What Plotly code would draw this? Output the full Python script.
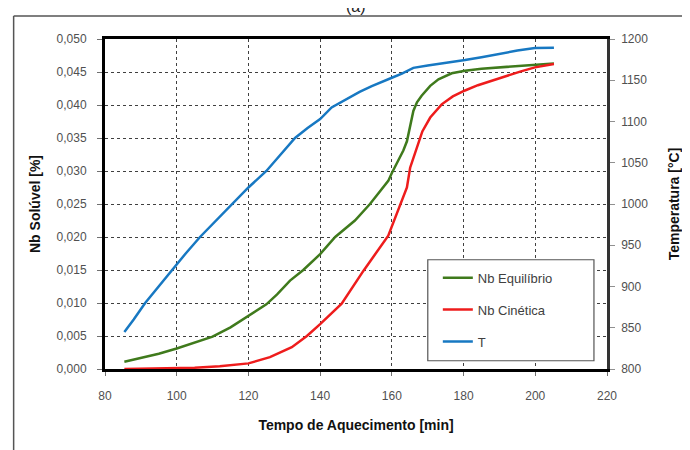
import plotly.graph_objects as go

# ---- data ----
t_T = [85.4, 88, 91.2, 95, 98.6, 102.5, 106.5, 111, 115.5, 120, 125, 129, 133, 136.5, 140,
       143.2, 147.4, 151, 154.4, 158, 160, 162.8, 166, 170, 175, 180.4, 185, 190, 195,
       199.9, 205.2]
temp = [845, 860, 880, 900, 920, 940, 960, 980, 1000, 1020, 1040, 1060, 1080, 1092, 1103,
        1117, 1127, 1136, 1143, 1150, 1153, 1158, 1165, 1168, 1171, 1174.5, 1178, 1182, 1186,
        1189, 1189.5]

t_eq = [85.4, 90, 95, 100, 105, 110, 115, 120, 125, 128, 131.6, 135.3, 140, 144.2, 149.7,
        153.9, 159, 160, 161.8, 163.2, 164.2, 165, 166, 167, 168.3, 170.7, 173, 176.7, 180.4,
        185, 190, 195, 199.9, 205.2]
nb_eq = [0.0011, 0.0017, 0.0023, 0.0031, 0.0040, 0.0049, 0.0063, 0.0081, 0.0098, 0.0113,
         0.0134, 0.0150, 0.0174, 0.0200, 0.0225, 0.0250, 0.0285, 0.0297, 0.0316, 0.0331,
         0.0345, 0.0365, 0.0391, 0.0404, 0.0414, 0.0429, 0.0439, 0.0448, 0.0452, 0.0455,
         0.0457, 0.0459, 0.0461, 0.0463]

t_kin = [85.4, 95, 105, 112, 120, 126, 132.1, 136.3, 140, 146, 152.1, 159, 161.8, 164.2,
         165.1, 166.7, 168.5, 170.7, 173.9, 177, 180.4, 184, 187.9, 192, 196, 199.9, 205.2]
nb_kin = [0.0000, 0.0001, 0.0002, 0.0004, 0.00085, 0.0018, 0.0033, 0.0050, 0.0068, 0.0099,
          0.0149, 0.0202, 0.0242, 0.0275, 0.0305, 0.0331, 0.0360, 0.0381, 0.0401, 0.0413,
          0.0422, 0.0430, 0.0437, 0.0445, 0.0451, 0.0457, 0.0462]

names = ["Nb Equilíbrio", "Nb Cinética", "T"]
colors = ["#3f7a1c", "#ee1c1c", "#1778c2"]

fig = go.Figure()
fig.add_trace(go.Scatter(x=t_eq, y=nb_eq, name=names[0], mode="lines", legendgroup="a",
                         line=dict(color=colors[0], width=2.5)))
fig.add_trace(go.Scatter(x=t_kin, y=nb_kin, name=names[1], mode="lines", legendgroup="b",
                         line=dict(color=colors[1], width=2.5)))
fig.add_trace(go.Scatter(x=t_T, y=temp, name=names[2], mode="lines", yaxis="y2", legendgroup="c",
                         line=dict(color=colors[2], width=2.5)))

tickfont = dict(family="Liberation Sans, Arial, sans-serif", size=12, color="#505050")
titlefont = dict(family="Liberation Sans, Arial, sans-serif", size=14, color="#111111")

fig.update_layout(
    width=682, height=442,
    margin=dict(l=97, r=83, t=31, b=81),
    paper_bgcolor="white", plot_bgcolor="white",
    separators=", ",
    showlegend=True,
    legend=dict(x=0.663, y=0.322, xanchor="left", yanchor="top",
                bgcolor="rgba(0,0,0,0)", borderwidth=0,
                font=dict(family="Liberation Sans, Arial, sans-serif", size=13, color="#404040"),
                tracegroupgap=12, itemwidth=30),
    xaxis=dict(range=[80, 220], dtick=20, tick0=80, automargin=False,
               showgrid=True, gridcolor="#404040", griddash="dot", gridwidth=1,
               showline=True, linecolor="black", linewidth=3, mirror=True,
               ticks="outside", ticklen=4, tickcolor="#707070", ticklabelstandoff=10,
               tickfont=tickfont, zeroline=False,
               title=dict(text="<b>Tempo de Aquecimento [min]</b>", font=titlefont, standoff=18)),
    yaxis=dict(range=[0, 0.05], dtick=0.005, tick0=0, tickformat=".3f", automargin=False,
               showgrid=True, gridcolor="#404040", griddash="dot", gridwidth=1,
               showline=True, linecolor="black", linewidth=3,
               ticks="outside", ticklen=5, tickcolor="#707070", ticklabelstandoff=8,
               tickfont=tickfont, zeroline=False,
               title=dict(text="<b>Nb Solúvel [%]</b>", font=titlefont, standoff=13)),
    yaxis2=dict(range=[800, 1200], dtick=50, tick0=800, tickformat="d", automargin=False,
                overlaying="y", side="right", showgrid=False,
                showline=True, linecolor="#333333", linewidth=2.5,
                ticks="outside", ticklen=5, tickcolor="#909090", ticklabelstandoff=4,
                tickfont=tickfont, zeroline=False,
                title=dict(text="<b>Temperatura [°C]</b>", font=titlefont, standoff=23)),
)

# legend frame (white box covering the grid)
fig.add_shape(type="rect", xref="paper", yref="paper", x0=0.643, x1=0.974, y0=0.025, y1=0.331,
              layer="above", fillcolor="white", line=dict(color="#555555", width=1.2))

# outer chart frame (partially visible in reference)
fig.add_shape(type="line", xref="paper", yref="paper", x0=-0.182, x1=1.2, y0=1.07, y1=1.07,
              line=dict(color="#555555", width=1.5))
fig.add_shape(type="line", xref="paper", yref="paper", x0=-0.182, x1=-0.182, y0=-0.3, y1=1.07,
              line=dict(color="#555555", width=1.5))

fig.add_annotation(text="(a)", xref="paper", yref="paper", x=0.5, y=1.097,
                   xanchor="center", yanchor="middle", showarrow=False,
                   font=dict(family="Liberation Sans, Arial, sans-serif", size=16, color="#222222"))

fig.write_html("out.html")
